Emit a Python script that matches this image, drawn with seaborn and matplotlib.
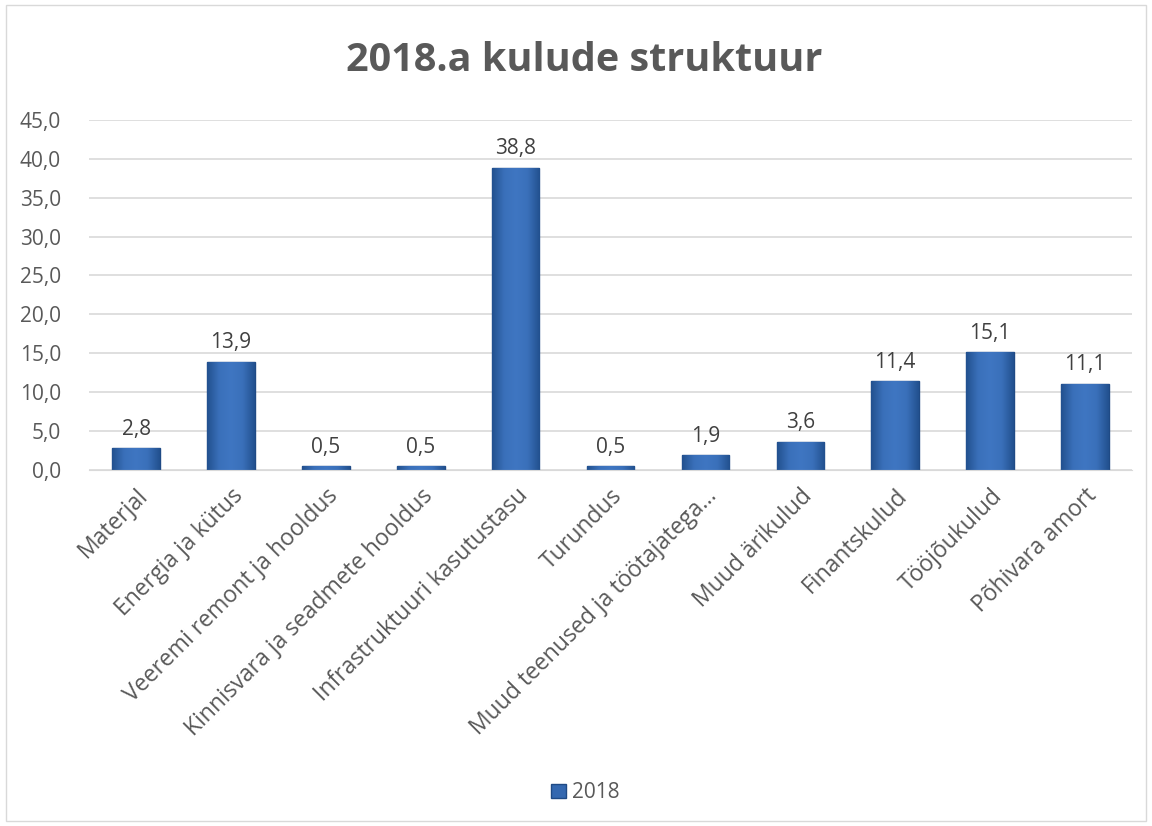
import pandas as pd
import numpy as np
import matplotlib
matplotlib.use('Agg')
import matplotlib.pyplot as plt
import seaborn as sns
from matplotlib.patches import Rectangle
from matplotlib.colors import LinearSegmentedColormap
from matplotlib.ticker import FuncFormatter

categories = ['Materjal', 'Energia ja kütus', 'Veeremi remont ja hooldus',
              'Kinnisvara ja seadmete hooldus', 'Infrastruktuuri kasutustasu',
              'Turundus', 'Muud teenused ja töötajatega…', 'Muud ärikulud',
              'Finantskulud', 'Tööjõukulud', 'Põhivara amort']
values_2018 = [2.8, 13.9, 0.5, 0.5, 38.8, 0.5, 1.9, 3.6, 11.4, 15.1, 11.1]
series_name = '2018'

df = pd.DataFrame({'kategooria': categories, 'vaartus': values_2018})

sns.set_style('white')
plt.rcParams['font.family'] = ['Open Sans', 'DejaVu Sans']
text_color = '#595959'
bar_color = '#3468B0'
edge_color = '#1F4A85'
fs = 15

fig = plt.figure(figsize=(11.52, 8.26), dpi=100)
ax = fig.add_axes([0.077, 0.431, 0.906, 0.424])

sns.barplot(data=df, x='kategooria', y='vaartus', color=bar_color,
            width=0.5, edgecolor=edge_color, linewidth=1, saturation=1, ax=ax)

# bevel-like horizontal gradient on each bar
grad_cmap = LinearSegmentedColormap.from_list(
    'bev', ['#22518F', '#3A70BA', '#3F76C2', '#3A70BA', '#22518F'])
grad = np.linspace(0, 1, 64).reshape(1, -1)
for bar in ax.patches:
    x0, y0 = bar.get_x(), bar.get_y()
    w, h = bar.get_width(), bar.get_height()
    im = ax.imshow(grad, cmap=grad_cmap, aspect='auto', interpolation='bicubic',
                   extent=(x0, x0 + w, y0, y0 + h), zorder=bar.get_zorder() + 0.1)
    im.set_clip_path(bar)

# value labels
for i, v in enumerate(values_2018):
    ax.text(i, v + 1.1, f'{v:.1f}'.replace('.', ','), ha='center', va='bottom',
            fontsize=fs, color='#404040')

ax.set_ylim(0, 45)
ax.set_yticks(np.arange(0, 46, 5))
ax.yaxis.set_major_formatter(FuncFormatter(lambda y, _: f'{y:.1f}'.replace('.', ',')))
ax.grid(axis='y', color='#D9D9D9', linewidth=1.2)
ax.set_axisbelow(True)
for s in ax.spines.values():
    s.set_visible(False)
ax.spines['bottom'].set_visible(True)
ax.spines['bottom'].set_color('#D9D9D9')
ax.tick_params(axis='y', length=0, labelsize=fs, labelcolor=text_color, pad=20)
ax.tick_params(axis='x', length=0, labelsize=16.5, labelcolor=text_color, pad=10)
ax.set_xlabel('')
ax.set_ylabel('')
plt.setp(ax.get_xticklabels(), rotation=45, ha='right', rotation_mode='anchor')
ax.set_xlim(-0.5, len(categories) - 0.5)

fig.text(0.507, 0.927, '2018.a kulude struktuur', ha='center', va='center',
         fontsize=28.5, fontweight='bold', color=text_color)

handle = Rectangle((0, 0), 1, 1, facecolor=bar_color, edgecolor=edge_color)
fig.legend([handle], [series_name], loc='center', bbox_to_anchor=(0.508, 0.04),
           frameon=False, fontsize=fs, handlelength=0.7, handleheight=0.7,
           handletextpad=0.3, labelcolor=text_color)

fig.add_artist(Rectangle((0.005, 0.006), 0.99, 0.988, transform=fig.transFigure,
                         fill=False, edgecolor='#D9D9D9', linewidth=1))

fig.savefig('out.png', dpi=100)
